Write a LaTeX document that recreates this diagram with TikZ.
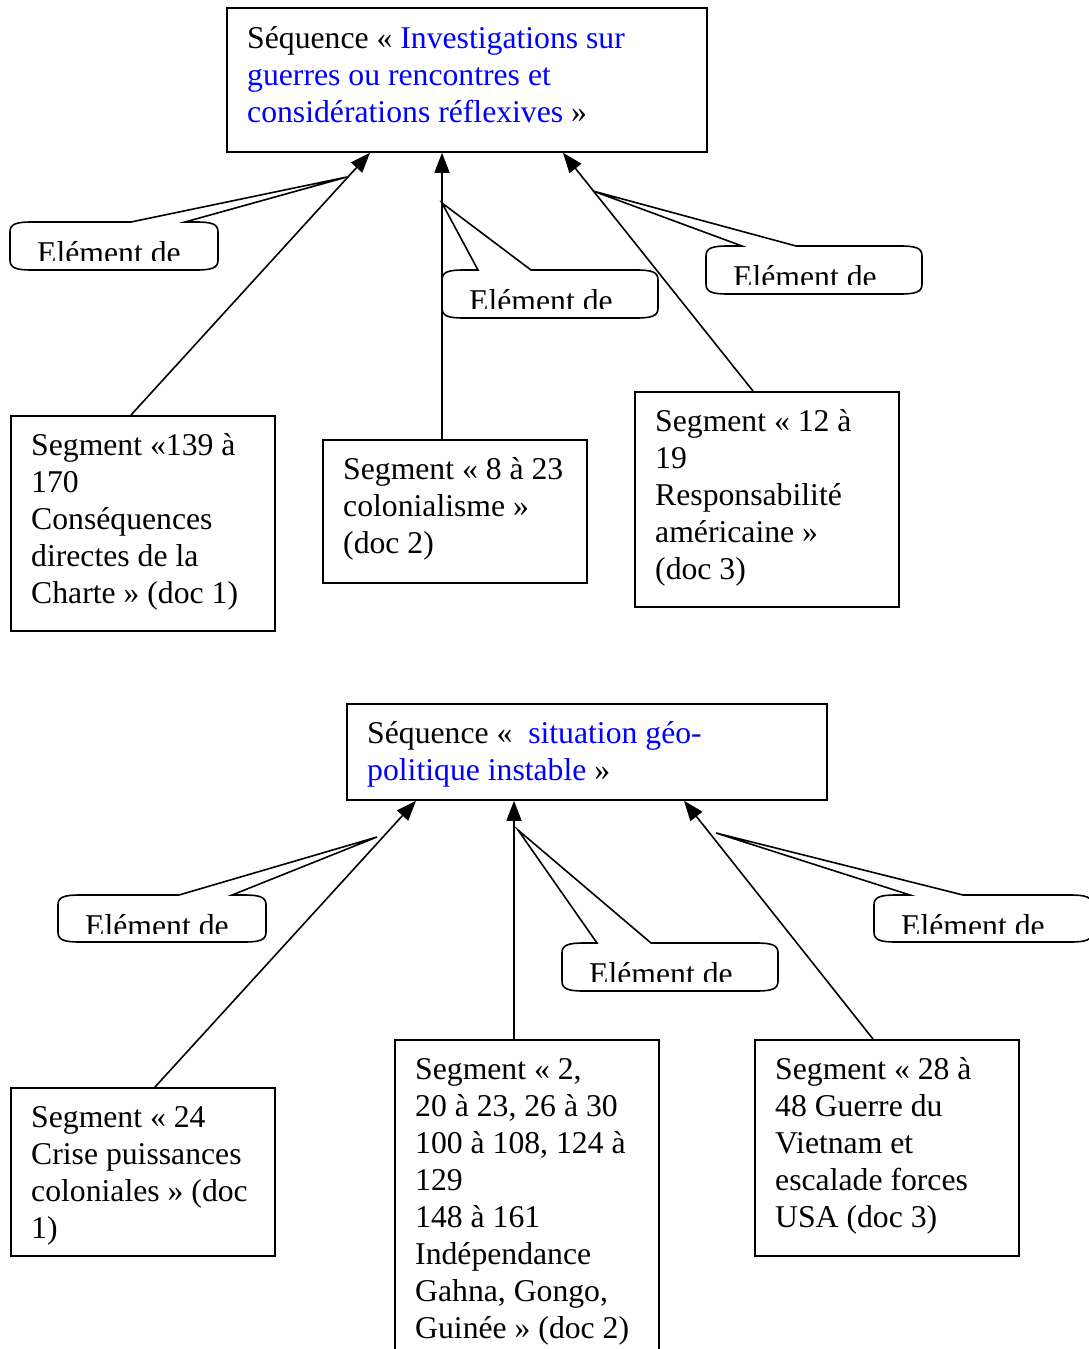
\documentclass[tikz,border=0pt]{standalone}
\usepackage{fontspec}
\setmainfont{Liberation Serif}
\usetikzlibrary{arrows.meta}
\definecolor{myblue}{HTML}{0000FF}
\tikzset{
  txt/.style={font=\fontsize{31.7}{37}\selectfont, inner sep=0pt, anchor=base west},
  boxnode/.style={draw, line width=1.8pt, inner sep=0pt, anchor=north west},
  arr/.style={line width=1.6pt, -{Triangle[length=20pt,width=15pt]}},
  co/.style={line width=1.6pt}
}
\newcommand\mycallout[8]{%
  \draw[co] (#6,#3) -- (#8) -- (#7,#3) -- (#4-22,#3) .. controls (#4-6,#3) and (#4,#3+2) .. (#4,#3+10)
    -- (#4,#5-10) .. controls (#4,#5-2) and (#4-6,#5) .. (#4-22,#5)
    -- (#2+22,#5) .. controls (#2+6,#5) and (#2,#5-2) .. (#2,#5-10)
    -- (#2,#3+10) .. controls (#2,#3+2) and (#2+6,#3) .. (#2+22,#3) -- cycle;
  \begin{scope}
    \clip (#2,#3) rectangle (#4,#3+38.5);
    \node[txt] (#1) at (#2+27,#3+41) {Elément de};
  \end{scope}}
\begin{document}
\begin{tikzpicture}[x=1pt,y=-1pt]
\useasboundingbox (0,0) rectangle (1088,1349);
\fill[white] (0,0) rectangle (1088,1349);

% ---------- upper group ----------
\node[boxnode, minimum width=480pt, minimum height=144pt] (seqA) at (226,7) {};
\node[txt] (seqAt) at (247,48) {\begin{tabular}[t]{@{}l@{}}Séquence « \textcolor{myblue}{Investigations sur}\\
\textcolor{myblue}{guerres ou rencontres et}\\
\textcolor{myblue}{considérations réflexives} »\end{tabular}};

\node[boxnode, minimum width=264pt, minimum height=215pt] (b1) at (10,415) {};
\node[txt] (b1t) at (31,455) {\begin{tabular}[t]{@{}l@{}}Segment «139 à\\170\\Conséquences\\directes de la\\Charte » (doc 1)\end{tabular}};

\node[boxnode, minimum width=264pt, minimum height=143pt] (b2) at (322,439) {};
\node[txt] (b2t) at (343,479) {\begin{tabular}[t]{@{}l@{}}Segment « 8 à 23\\colonialisme »\\(doc 2)\end{tabular}};

\node[boxnode, minimum width=264pt, minimum height=215pt] (b3) at (634,391) {};
\node[txt] (b3t) at (655,431) {\begin{tabular}[t]{@{}l@{}}Segment « 12 à\\19\\Responsabilité\\américaine »\\(doc 3)\end{tabular}};

\draw[arr] ([xshift=121pt]b1.north west) -- ([xshift=144pt]seqA.south west);
\draw[arr] ([xshift=120pt]b2.north west) -- ([xshift=216pt]seqA.south west);
\draw[arr] ([xshift=119pt]b3.north west) -- ([xshift=337pt]seqA.south west);

\coordinate (tc1) at (347,177);
\coordinate (tc2) at (442,203);
\coordinate (tc3) at (593,191);
\mycallout{c1}{10}{222}{218}{270}{131}{185}{tc1}
\mycallout{c2}{442}{270}{658}{318}{478}{531}{tc2}
\mycallout{c3}{706}{246}{922}{294}{742}{796}{tc3}

% ---------- lower group ----------
\node[boxnode, minimum width=480pt, minimum height=96pt] (seqB) at (346,703) {};
\node[txt] (seqBt) at (367,743) {\begin{tabular}[t]{@{}l@{}}Séquence «\ \ \textcolor{myblue}{situation géo-}\\
\textcolor{myblue}{politique instable} »\end{tabular}};

\node[boxnode, minimum width=264pt, minimum height=168pt] (d1) at (10,1087) {};
\node[txt] (d1t) at (31,1127) {\begin{tabular}[t]{@{}l@{}}Segment « 24\\Crise puissances\\coloniales » (doc\\1)\end{tabular}};

\node[boxnode, minimum width=264pt, minimum height=330pt] (d2) at (394,1039) {};
\node[txt] (d2t) at (415,1079) {\begin{tabular}[t]{@{}l@{}}Segment « 2,\\20 à 23, 26 à 30\\100 à 108, 124 à\\129\\148 à 161\\Indépendance\\Gahna, Gongo,\\Guinée » (doc 2)\end{tabular}};

\node[boxnode, minimum width=264pt, minimum height=216pt] (d3) at (754,1039) {};
\node[txt] (d3t) at (775,1079) {\begin{tabular}[t]{@{}l@{}}Segment « 28 à\\48 Guerre du\\Vietnam et\\escalade forces\\USA (doc 3)\end{tabular}};

\draw[arr] ([xshift=145pt]d1.north west) -- ([xshift=70pt]seqB.south west);
\draw[arr] ([xshift=120pt]d2.north west) -- ([xshift=168pt]seqB.south west);
\draw[arr] ([xshift=119pt]d3.north west) -- ([xshift=338pt]seqB.south west);

\coordinate (te1) at (377,837);
\coordinate (te2) at (518,830);
\coordinate (te3) at (716,833);
\mycallout{e1}{58}{895}{266}{942}{179}{232}{te1}
\mycallout{e2}{562}{943}{778}{991}{597}{651}{te2}
\mycallout{e3}{874}{895}{1092}{942}{910}{963}{te3}
\end{tikzpicture}
\end{document}
